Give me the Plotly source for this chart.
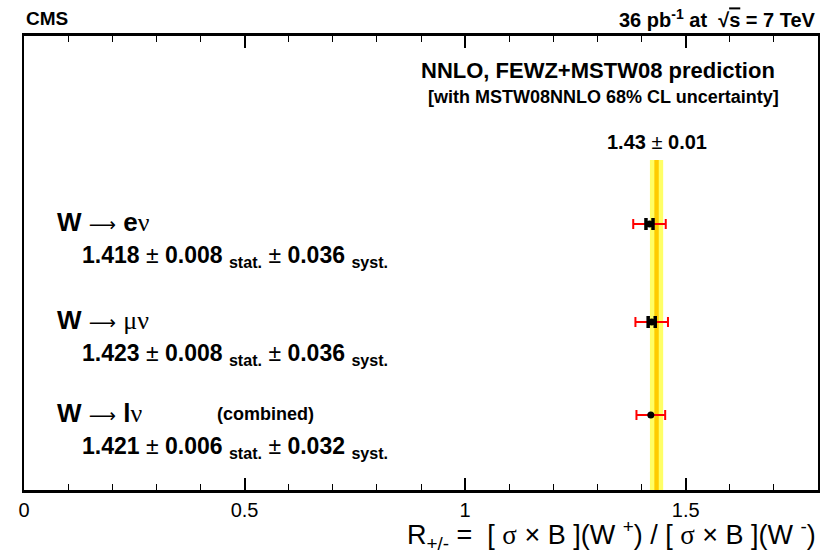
import plotly.graph_objects as go

# ---- data ----
channels = ["W → eν", "W → μν", "W → lν"]
values = [1.418, 1.423, 1.421]
stat_err = [0.008, 0.008, 0.006]
syst_err = [0.036, 0.036, 0.032]
y_pos = [0.586, 0.370, 0.165]
show_stat_bar = [True, True, False]
theory_value = 1.434
theory_label = "1.43 ± 0.01"
theory_err_outer = 0.015
theory_err_inner = 0.005
band_top = 0.727
x_ticks = [0, 0.5, 1, 1.5]
x_tick_labels = ["0", "0.5", "1", "1.5"]

total_err = [(s ** 2 + y ** 2) ** 0.5 for s, y in zip(stat_err, syst_err)]

FONT = "Liberation Sans, Arial, Helvetica, sans-serif"
SERIF = "Liberation Serif, DejaVu Serif, serif"


def sym(t, size=None, family=SERIF):
    st = f"font-family:{family}"
    if size:
        st += f";font-size:{size}px"
    return f"<span style='{st}'>{t}</span>"


fig = go.Figure()

# theory band (outer light yellow and inner orange)
lo, hi = theory_value - theory_err_outer, theory_value + theory_err_outer
fig.add_trace(go.Scatter(x=[lo, hi, hi, lo, lo], y=[0, 0, band_top, band_top, 0],
                         fill="toself", fillcolor="#FFFF66", line=dict(width=0),
                         mode="lines", hoverinfo="skip", showlegend=False))
lo2, hi2 = theory_value - theory_err_inner, theory_value + theory_err_inner
fig.add_trace(go.Scatter(x=[lo2, hi2, hi2, lo2, lo2], y=[0, 0, band_top, band_top, 0],
                         fill="toself", fillcolor="#FFCC00", line=dict(width=0),
                         mode="lines", hoverinfo="skip", showlegend=False))

# total error bars (red)
fig.add_trace(go.Scatter(x=values, y=y_pos, mode="markers",
                         marker=dict(size=1, color="rgba(0,0,0,0)"),
                         error_x=dict(type="data", array=total_err, color="#FF0000",
                                      thickness=2, width=5),
                         showlegend=False))

# stat error bars (black)
sx = [v for v, f in zip(values, show_stat_bar) if f]
sy = [p for p, f in zip(y_pos, show_stat_bar) if f]
se = [e for e, f in zip(stat_err, show_stat_bar) if f]
fig.add_trace(go.Scatter(x=sx, y=sy, mode="markers",
                         marker=dict(size=1, color="rgba(0,0,0,0)"),
                         error_x=dict(type="data", array=se, color="black",
                                      thickness=3.5, width=6),
                         showlegend=False))

# central points
fig.add_trace(go.Scatter(x=values, y=y_pos, mode="markers",
                         marker=dict(size=7, color="black", symbol="circle"),
                         showlegend=False))

ann = []
ARROW = sym("⟶", 19, "DejaVu Sans")
names_html = [f"<b>W</b> {ARROW} <b>e</b>{sym('ν')}",
              f"<b>W</b> {ARROW} {sym('μν')}",
              f"<b>W</b> {ARROW} <b>l</b>{sym('ν')}"]
for nm, v, st, sy_, yp in zip(names_html, values, stat_err, syst_err, y_pos):
    ann.append(dict(x=0.039, y=yp + 0.005, xref="paper", yref="y", text=nm,
                    xanchor="left", yanchor="middle", showarrow=False,
                    font=dict(size=26, family=FONT, color="black")))
    txt = (f"<b>{v:.3f}</b> ± <b>{st:.3f}</b> <sub><b>stat.</b></sub>"
           f" ± <b>{sy_:.3f}</b> <sub><b>syst.</b></sub>")
    ann.append(dict(x=0.0705, y=yp - 0.071, xref="paper", yref="y", text=txt,
                    xanchor="left", yanchor="middle", showarrow=False,
                    font=dict(size=23, family=FONT, color="black")))
ann.append(dict(x=0.24, y=y_pos[2] + 0.002, xref="paper", yref="y",
                text="<b>(combined)</b>", xanchor="left", yanchor="middle",
                showarrow=False, font=dict(size=18, family=FONT, color="black")))

# top texts
ann.append(dict(x=0.0, y=1.0, xref="paper", yref="paper", yshift=18,
                text="<b>CMS</b>", xanchor="left", yanchor="middle",
                showarrow=False, font=dict(size=19, family=FONT, color="black")))
ann.append(dict(x=1.0, y=1.0, xref="paper", yref="paper", yshift=18,
                text=("<b>36 pb<sup>-1</sup> at  √<span style='text-decoration:overline'>s</span>"
                      " = 7 TeV</b>"),
                xanchor="right", yanchor="middle", showarrow=False,
                font=dict(size=20, family=FONT, color="black")))
ann.append(dict(x=0.723, y=0.925, xref="paper", yref="paper",
                text="<b>NNLO, FEWZ+MSTW08 prediction</b>", xanchor="center",
                yanchor="middle", showarrow=False,
                font=dict(size=22, family=FONT, color="black")))
ann.append(dict(x=0.730, y=0.866, xref="paper", yref="paper",
                text="<b>[with MSTW08NNLO 68% CL uncertainty]</b>", xanchor="center",
                yanchor="middle", showarrow=False,
                font=dict(size=18, family=FONT, color="black")))
ann.append(dict(x=theory_value, y=band_top, xref="x", yref="y", yshift=18,
                text=f"<b>{theory_label.split(' ± ')[0]}</b> ± <b>{theory_label.split(' ± ')[1]}</b>",
                xanchor="center", yanchor="middle", showarrow=False,
                font=dict(size=20, family=FONT, color="black")))
# x-axis title
ann.append(dict(x=1.0, y=0, xref="paper", yref="paper", yshift=-45,
                text=(f"R<sub>+/-</sub> =  [ {sym('σ')} × B ](W <sup>+</sup>) / "
                      f"[ {sym('σ')} × B ](W <sup>-</sup>)"),
                xanchor="right", yanchor="middle", showarrow=False,
                font=dict(size=27, family=FONT, color="black")))

fig.update_layout(
    width=833, height=553,
    margin=dict(l=24, r=15, t=36, b=63),
    paper_bgcolor="white", plot_bgcolor="white",
    font=dict(family=FONT, color="black"),
    annotations=ann,
    xaxis=dict(range=[0, 1.8], tickvals=x_ticks, ticktext=x_tick_labels,
               ticks="inside", ticklen=12, tickwidth=1.5, tickcolor="black",
               showline=True, linewidth=2.5, linecolor="black", mirror="allticks",
               showgrid=False, zeroline=False,
               tickfont=dict(size=20, family=FONT, color="black"),
               minor=dict(dtick=0.1, ticks="inside", ticklen=6, tickwidth=1,
                          tickcolor="black", showgrid=False)),
    yaxis=dict(range=[0, 1], showticklabels=False, ticks="",
               showline=True, linewidth=2, linecolor="black", mirror=True,
               showgrid=False, zeroline=False, fixedrange=True),
)

fig.write_html("out.html", config={"displayModeBar": False},
               post_script="document.body.style.margin='0';")
